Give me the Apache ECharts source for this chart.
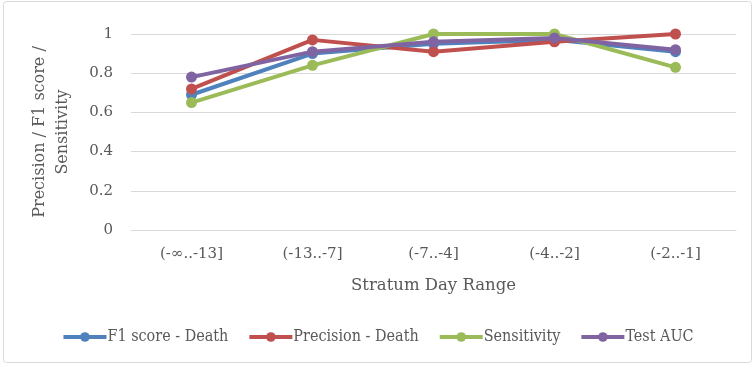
<!DOCTYPE html>
<html>
<head>
<meta charset="utf-8">
<script src="https://cdn.jsdelivr.net/npm/echarts@6/dist/echarts.min.js"></script>
<style>
  html, body { margin: 0; padding: 0; background: #fff; }
  #main { width: 755px; height: 365px; }
</style>
</head>
<body>
<div id="main"></div>
<script>
const categories = ['(-∞..-13]', '(-13..-7]', '(-7..-4]', '(-4..-2]', '(-2..-1]']
const f1Death = [0.69, 0.90, 0.95, 0.97, 0.91]
const precisionDeath = [0.72, 0.97, 0.91, 0.96, 1.0]
const sensitivity = [0.65, 0.84, 1.0, 1.0, 0.83]
const testAuc = [0.78, 0.91, 0.96, 0.98, 0.92]
const yTicks = [0, 0.2, 0.4, 0.6, 0.8, 1]

const font = 'DejaVu Serif'
const textColor = '#595959'

function line (name, data, color) {
  return {
    name: name,
    type: 'line',
    data: data,
    symbol: 'circle',
    symbolSize: 11,
    lineStyle: { width: 4, color: color },
    itemStyle: { color: color }
  }
}

let myChart = echarts.init(document.getElementById('main'))
let option = {
  animation: false,
  textStyle: { fontFamily: font, color: textColor },
  graphic: [{
    type: 'rect',
    shape: { x: 3.5, y: 1.5, width: 748, height: 361, r: 3 },
    style: { fill: 'none', stroke: '#d9d9d9', lineWidth: 1 }
  }],
  grid: { left: 131, right: 19, top: 34, bottom: 135 },
  legend: {
    top: 324,
    left: 'center',
    itemWidth: 43,
    itemHeight: 12,
    itemGap: 19,
    lineStyle: { width: 4 },
    textStyle: { fontFamily: 'DejaVu Serif Condensed', fontSize: 16, color: textColor, padding: [0, 0, 0, -4] },
    data: ['F1 score - Death', 'Precision - Death', 'Sensitivity', 'Test AUC']
  },
  xAxis: {
    type: 'category',
    data: categories,
    name: 'Stratum Day Range',
    nameLocation: 'middle',
    nameGap: 47,
    nameTextStyle: { fontSize: 16.5, color: textColor },
    axisLine: { lineStyle: { color: '#d9d9d9', width: 1 } },
    axisTick: { show: false },
    axisLabel: { fontSize: 15, color: textColor, margin: 17 }
  },
  yAxis: {
    type: 'value',
    min: 0,
    max: 1,
    interval: 0.2,
    name: 'Precision / F1 score /\nSensitivity',
    nameLocation: 'middle',
    nameGap: 57,
    nameTextStyle: { fontSize: 16, color: textColor, lineHeight: 23 },
    axisLine: { show: false },
    axisTick: { show: false },
    splitLine: { lineStyle: { color: '#d9d9d9', width: 1 } },
    axisLabel: {
      fontSize: 15,
      color: textColor,
      margin: 18,
      formatter: function (v) {
        let t = yTicks.find(k => Math.abs(k - v) < 1e-9)
        return t === undefined ? '' : String(t)
      }
    }
  },
  series: [
    line('F1 score - Death', f1Death, '#4F81BD'),
    line('Precision - Death', precisionDeath, '#C0504D'),
    line('Sensitivity', sensitivity, '#9BBB59'),
    line('Test AUC', testAuc, '#8064A2')
  ]
}
myChart.setOption(option)
</script>
</body>
</html>
